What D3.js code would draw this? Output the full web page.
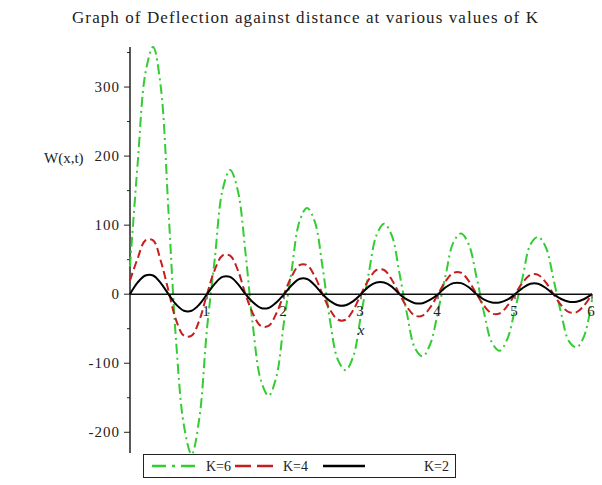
<!DOCTYPE html>
<html>
<head>
<meta charset="utf-8">
<script src="https://cdn.jsdelivr.net/npm/d3@7"></script>
<style>
    body { margin: 0; background: #fff; }
    svg text { font-family: "Liberation Serif", "Times New Roman", serif; fill: #222; }
</style>
</head>
<body>
<div id="chart"></div>
<script>
// sample positions along x (step 0.1 from 0 to 6)
var xSamples = d3.range(61).map(function (i) { return i / 10; });

// deflection values, one per x sample
var k6Values = [
    40, 190, 320, 358, 300, 120, -70, -190, -232, -180,
    -50, 50, 150, 180, 150, 60, -50, -125, -147, -120,
    -40, 35, 105, 125, 105, 40, -40, -95, -110, -90,
    -30, 30, 85, 102, 85, 30, -30, -78, -90, -72,
    -25, 28, 75, 88, 72, 25, -28, -70, -82, -65,
    -22, 25, 72, 83, 68, 22, -28, -68, -77, -60,
    -8
];
var k4Values = [
    20, 52, 78, 78, 48, 5, -38, -60, -60, -38,
    0, 35, 56, 56, 35, 0, -29, -46, -46, -28,
    0, 26, 42, 42, 26, 0, -23, -37, -37, -23,
    0, 21, 35, 35, 21, 0, -19, -31, -31, -19,
    0, 19, 31, 31, 19, 0, -17, -28, -28, -17,
    0, 17, 28, 28, 17, 0, -16, -26, -26, -16,
    0
];
var k2Values = [
    0, 17, 27, 27, 16, 0, -15, -24, -24, -15,
    0, 15, 25, 25, 15, 0, -12, -20, -20, -12,
    0, 13, 22, 22, 13, 0, -10, -16, -16, -10,
    0, 11, 17, 17, 11, 0, -8, -13, -13, -8,
    0, 10, 16, 16, 10, 0, -8, -12, -12, -8,
    0, 9, 15, 15, 9, 0, -7, -11, -11, -7,
    0
];

var seriesNames = ['K=6', 'K=4', 'K=2'];
var xTicks = [1, 2, 3, 4, 5, 6];
var yTicks = [-200, -100, 0, 100, 200, 300];
var yMinorTicks = [-150, -50, 50, 150, 250, 350];

var width = 602, height = 485;
var styles = [
    { color: '#33cc33', dash: '10,4,2,4', w: 2 },
    { color: '#c41e1e', dash: '8,4', w: 2 },
    { color: '#000000', dash: null, w: 2 }
];

var svg = d3.select('#chart').append('svg')
    .attr('width', width).attr('height', height);

var x = d3.scaleLinear().domain([0, 6]).range([130, 592]);
var y = d3.scaleLinear().domain([-230, 358]).range([453, 47]);

// title
svg.append('text')
    .attr('x', 72).attr('y', 23)
    .attr('textLength', 466).attr('lengthAdjust', 'spacing')
    .style('font-size', '17px')
    .text('Graph of Deflection against distance at various values of K');

// y axis
var yAxis = svg.append('g');
yAxis.append('line')
    .attr('x1', x(0)).attr('x2', x(0))
    .attr('y1', y(358)).attr('y2', y(-230))
    .attr('stroke', '#222').attr('stroke-width', 1.5);
yAxis.selectAll('.major').data(yTicks).enter().append('line')
    .attr('x1', x(0) - 6).attr('x2', x(0))
    .attr('y1', function (d) { return y(d); }).attr('y2', function (d) { return y(d); })
    .attr('stroke', '#222');
yAxis.selectAll('.minor').data(yMinorTicks).enter().append('line')
    .attr('x1', x(0) - 3).attr('x2', x(0))
    .attr('y1', function (d) { return y(d); }).attr('y2', function (d) { return y(d); })
    .attr('stroke', '#222');
yAxis.selectAll('.ylab').data(yTicks).enter().append('text')
    .attr('x', x(0) - 10)
    .attr('y', function (d) { return y(d) + 5; })
    .attr('text-anchor', 'end')
    .style('font-size', '15px')
    .style('letter-spacing', '1px')
    .text(function (d) { return d < 0 ? '-' + Math.abs(d) : d; });

svg.append('text')
    .attr('x', 44).attr('y', 163)
    .style('font-size', '15px')
    .text('W(x,t)');

// curves
var line = d3.line()
    .x(function (d) { return x(d[0]); })
    .y(function (d) { return y(d[1]); })
    .curve(d3.curveCatmullRom.alpha(0.5));

[k6Values, k4Values, k2Values].forEach(function (vals, i) {
    var pts = xSamples.map(function (xv, j) { return [xv, vals[j]]; });
    svg.append('path')
        .datum(pts)
        .attr('d', line)
        .attr('fill', 'none')
        .attr('stroke', styles[i].color)
        .attr('stroke-width', styles[i].w)
        .attr('stroke-dasharray', styles[i].dash);
});

// x axis on top of curves
var xAxis = svg.append('g');
xAxis.append('line')
    .attr('x1', x(0)).attr('x2', x(6))
    .attr('y1', y(0)).attr('y2', y(0))
    .attr('stroke', '#111').attr('stroke-width', 1.5);
xAxis.selectAll('.tick').data(xTicks).enter().append('line')
    .attr('x1', function (d) { return x(d); }).attr('x2', function (d) { return x(d); })
    .attr('y1', y(0)).attr('y2', y(0) + 5)
    .attr('stroke', '#111');
xAxis.selectAll('.xlab').data(xTicks).enter().append('text')
    .attr('x', function (d) { return x(d) - 1; })
    .attr('y', y(0) + 22)
    .attr('text-anchor', 'middle')
    .style('font-size', '15px')
    .text(function (d) { return d; });
svg.append('text')
    .attr('x', 361).attr('y', 335)
    .attr('text-anchor', 'middle')
    .style('font-size', '15px')
    .style('font-style', 'italic')
    .text('x');

// legend
var legend = svg.append('g');
legend.append('rect')
    .attr('x', 143.5).attr('y', 454.5)
    .attr('width', 312).attr('height', 23)
    .attr('fill', '#fff').attr('stroke', '#222').attr('stroke-width', 1);
var legendPos = [
    { x1: 152, x2: 197, tx: 206 },
    { x1: 235, x2: 276, tx: 283 },
    { x1: 323, x2: 365, tx: 424 }
];
seriesNames.forEach(function (name, i) {
    legend.append('line')
        .attr('x1', legendPos[i].x1).attr('x2', legendPos[i].x2)
        .attr('y1', 466).attr('y2', 466)
        .attr('stroke', styles[i].color)
        .attr('stroke-width', 2.5)
        .attr('stroke-dasharray', i === 0 ? '14,6,3,6' : (i === 1 ? '16,6' : null));
    legend.append('text')
        .attr('x', legendPos[i].tx).attr('y', 471)
        .attr('textLength', 25).attr('lengthAdjust', 'spacingAndGlyphs')
        .style('font-size', '14px')
        .text(name);
});
</script>
</body>
</html>
